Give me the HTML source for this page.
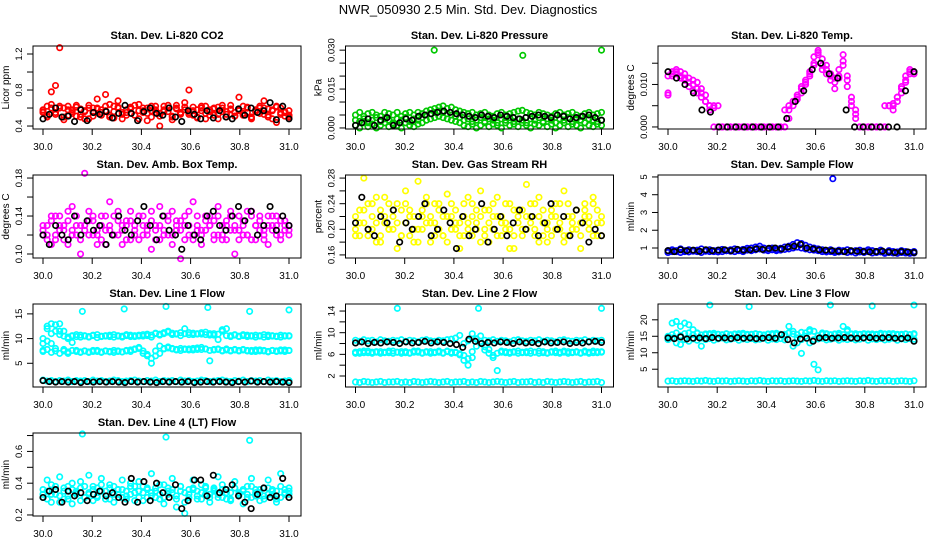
<!DOCTYPE html>
<html><head><meta charset="utf-8"><style>
body{margin:0;background:#fff}
svg{display:block;font-family:"Liberation Sans",sans-serif}
</style></head><body>
<svg id="chart" width="936" height="540" viewBox="0 0 936 540" xmlns="http://www.w3.org/2000/svg">
<rect width="936" height="540" fill="#fff"/>
<text x="468" y="14" text-anchor="middle" font-size="13">NWR_050930  2.5 Min. Std. Dev. Diagnostics</text>
</svg>
<script>
// ---- data ----
const xTickValues=[30.0,30.2,30.4,30.6,30.8,31.0];
const xTickLabels=["30.0","30.2","30.4","30.6","30.8","31.0"];

const co2Red=[0.55,0.62,0.78,0.85,1.27,0.60,0.52,0.58,0.63,0.50,0.56,0.48,0.60,0.70,0.58,0.75,0.52,0.62,0.68,0.48,0.55,0.60,0.52,0.64,0.57,0.46,0.62,0.55,0.40,0.58,0.63,0.50,0.60,0.54,0.66,0.80,0.52,0.58,0.62,0.48,0.56,0.60,0.53,0.63,0.50,0.58,0.55,0.72,0.52,0.60,0.48,0.57,0.62,0.68,0.50,0.58,0.44,0.60,0.55,0.50];
const co2Red2=[0.56,0.52,0.60,0.55,0.62,0.50,0.58,0.54,0.61,0.53,0.57,0.60,0.51,0.59,0.55,0.62,0.50,0.56,0.60,0.53,0.58,0.61,0.52,0.57,0.55,0.60,0.50,0.58,0.54,0.62,0.56,0.51,0.59,0.55,0.61,0.53,0.57,0.50,0.60,0.54,0.58,0.52,0.61,0.56,0.53,0.59,0.51,0.57,0.62,0.55,0.50,0.58,0.54,0.60,0.52,0.57,0.61,0.53,0.56,0.52];
const co2Red3=[0.58,0.50,0.64,0.53,0.60,0.47,0.62,0.56,0.51,0.59,0.48,0.63,0.55,0.60,0.52,0.57,0.64,0.49,0.61,0.55,0.52,0.59,0.63,0.48,0.60,0.54,0.57,0.62,0.51,0.56,0.60,0.47,0.63,0.53,0.58,0.55,0.61,0.49,0.57,0.62,0.52,0.59,0.48,0.60,0.56,0.63,0.51,0.58,0.54,0.61,0.49,0.56,0.60,0.53,0.59,0.48,0.62,0.55,0.51,0.57];
const co2Black=[0.48,0.53,0.60,0.50,0.51,0.45,0.58,0.46,0.55,0.53,0.56,0.49,0.54,0.63,0.54,0.46,0.56,0.60,0.54,0.52,0.60,0.50,0.45,0.57,0.53,0.48,0.57,0.49,0.57,0.50,0.48,0.59,0.52,0.60,0.55,0.57,0.66,0.47,0.62,0.48];

const presGreenHi=[0.005,0.006,0.0045,0.0055,0.006,0.005,0.0045,0.006,0.0055,0.005,0.006,0.0045,0.0055,0.006,0.005,0.006,0.0055,0.0065,0.007,0.0075,0.008,0.0085,0.0075,0.008,0.007,0.0065,0.006,0.0055,0.006,0.005,0.0055,0.006,0.005,0.0045,0.0055,0.006,0.005,0.0055,0.006,0.0065,0.0068,0.006,0.0055,0.005,0.006,0.0055,0.005,0.0045,0.0055,0.006,0.005,0.0055,0.006,0.005,0.0045,0.0055,0.006,0.005,0.0055,0.006];
const presGreenMid=[0.003,0.0025,0.0035,0.002,0.003,0.004,0.0025,0.0035,0.003,0.002,0.0035,0.003,0.004,0.0025,0.0035,0.003,0.004,0.005,0.0055,0.006,0.0065,0.006,0.0055,0.005,0.0045,0.004,0.003,0.0035,0.0025,0.003,0.004,0.0025,0.0035,0.003,0.002,0.0035,0.003,0.004,0.0025,0.0035,0.003,0.002,0.0035,0.003,0.004,0.0025,0.0035,0.003,0.002,0.0035,0.003,0.004,0.0025,0.0035,0.003,0.002,0.0035,0.003,0.0025,0.003];
const presGreenLo=[0.001,0.0,0.002,0.0005,0.0015,0.0,0.001,0.002,0.0005,0.0015,0.001,0.0,0.002,0.001,0.0005,0.0015,0.002,0.003,0.0035,0.004,0.0045,0.004,0.0035,0.003,0.0025,0.002,0.001,0.0005,0.0015,0.0,0.001,0.002,0.0005,0.0015,0.001,0.0,0.002,0.001,0.0015,0.0005,0.002,0.001,0.0,0.0015,0.001,0.002,0.0005,0.0015,0.0,0.001,0.002,0.0005,0.0015,0.001,0.0,0.002,0.001,0.0005,0.0015,0.001];
const presOutX=[30.32,30.68,31.0];
const presOutY=[0.030,0.028,0.030];
const presBlack=[0.001,0.002,0.0035,0.001,0.003,0.004,0.001,0.002,0.0035,0.003,0.0045,0.005,0.0055,0.006,0.0065,0.006,0.0055,0.005,0.0045,0.004,0.005,0.0045,0.004,0.005,0.0045,0.004,0.0035,0.004,0.0045,0.005,0.0045,0.004,0.005,0.0045,0.0035,0.004,0.0045,0.005,0.004,0.003];

const tempMagA=[0.008,0.013,0.0135,0.013,0.0125,0.0115,0.011,0.0105,0.009,0.0075,0.005,0.005,0.005,0,0,0,0,0,0,0,0,0,0,0,0,0,0,0,0,0.002,0.005,0.007,0.008,0.010,0.012,0.0145,0.018,0.016,0.0135,0.012,0.0115,0.012,0.017,0.011,0.007,0.003,0,0,0,0,0,0,0,0.005,0.005,0.006,0.008,0.011,0.0125,0.013];
const tempMagB=[0.0075,0.012,0.0125,0.012,0.0115,0.0105,0.010,0.009,0.008,0.006,0.004,0,0,0,0,0,0,0,0,0,0,0,0,0,0,0,0,0,0.004,0.004,0.006,0.0065,0.009,0.011,0.013,0.0165,0.017,0.0145,0.0125,0.011,0.009,0.0135,0.0145,0.0095,0.005,0.002,0,0,0,0,0,0,0.005,0.005,0.004,0.007,0.0095,0.012,0.0135,0.0125];
const tempMagC=[0.012,0.0125,0.013,0.0115,0.011,0.0095,0.0085,0.008,0.007,0.006,0.005,0.0045,0,0,0,0,0,0,0,0,0,0,0,0,0,0,0,0,0,0.005,0.006,0.0075,0.0095,0.0105,0.0125,0.015,0.0175,0.0135,0.0145,0.0125,0.0105,0.0115,0.0155,0.012,0.006,0.004,0,0,0,0,0,0,0,0.005,0.0055,0.007,0.009,0.0105,0.013,0.0125];
const tempBlack=[0.013,0.0115,0.010,0.008,0.004,0.0035,0,0,0,0,0,0,0,0,0.002,0.006,0.0085,0.0135,0.015,0.0125,0.0115,0.004,0,0,0,0,0,0,0.0085,0.013];

const boxMag1=[0.12,0.13,0.11,0.14,0.125,0.115,0.135,0.15,0.12,0.10,0.13,0.145,0.12,0.11,0.14,0.125,0.155,0.12,0.135,0.11,0.13,0.145,0.12,0.115,0.14,0.13,0.105,0.125,0.15,0.12,0.135,0.11,0.13,0.095,0.14,0.12,0.155,0.125,0.11,0.14,0.13,0.12,0.15,0.115,0.135,0.125,0.10,0.14,0.13,0.12,0.145,0.115,0.135,0.125,0.11,0.14,0.13,0.12,0.135,0.125];
const boxMag2=[0.125,0.115,0.135,0.12,0.14,0.13,0.11,0.125,0.14,0.13,0.185,0.12,0.135,0.125,0.115,0.14,0.13,0.12,0.145,0.125,0.115,0.135,0.13,0.14,0.12,0.125,0.135,0.115,0.13,0.14,0.12,0.145,0.125,0.135,0.115,0.13,0.12,0.14,0.125,0.135,0.13,0.115,0.14,0.12,0.13,0.145,0.125,0.115,0.135,0.12,0.14,0.13,0.125,0.115,0.14,0.13,0.12,0.135,0.125,0.13];
const boxMag3=[0.13,0.12,0.14,0.115,0.13,0.125,0.145,0.12,0.13,0.115,0.125,0.135,0.14,0.12,0.13,0.11,0.125,0.14,0.12,0.13,0.135,0.115,0.125,0.14,0.13,0.12,0.145,0.13,0.115,0.125,0.14,0.12,0.135,0.125,0.13,0.145,0.115,0.13,0.12,0.125,0.14,0.135,0.12,0.13,0.115,0.14,0.13,0.125,0.12,0.145,0.115,0.13,0.14,0.12,0.13,0.125,0.14,0.115,0.13,0.12];
const boxBlack=[0.12,0.11,0.13,0.12,0.115,0.14,0.12,0.135,0.125,0.13,0.11,0.12,0.14,0.125,0.12,0.135,0.15,0.13,0.115,0.14,0.125,0.12,0.105,0.13,0.12,0.115,0.14,0.145,0.13,0.125,0.14,0.15,0.135,0.145,0.12,0.13,0.15,0.125,0.14,0.13];

const rhYel1=[0.20,0.23,0.28,0.19,0.22,0.25,0.18,0.21,0.24,0.20,0.17,0.23,0.26,0.19,0.22,0.275,0.20,0.24,0.18,0.21,0.23,0.19,0.255,0.22,0.20,0.17,0.24,0.21,0.19,0.23,0.26,0.20,0.18,0.22,0.25,0.19,0.21,0.24,0.17,0.23,0.20,0.27,0.22,0.19,0.25,0.21,0.18,0.23,0.20,0.24,0.26,0.19,0.22,0.20,0.17,0.23,0.21,0.25,0.19,0.22];
const rhYel2=[0.22,0.19,0.21,0.24,0.20,0.18,0.23,0.25,0.20,0.22,0.24,0.19,0.21,0.23,0.18,0.20,0.22,0.25,0.21,0.19,0.24,0.22,0.18,0.20,0.23,0.21,0.19,0.25,0.22,0.20,0.18,0.23,0.21,0.24,0.19,0.22,0.20,0.17,0.23,0.21,0.19,0.22,0.24,0.20,0.18,0.23,0.21,0.19,0.22,0.20,0.18,0.24,0.21,0.23,0.19,0.22,0.20,0.24,0.21,0.19];
const rhYel3=[0.19,0.21,0.23,0.20,0.24,0.21,0.19,0.22,0.20,0.23,0.21,0.19,0.24,0.22,0.20,0.18,0.23,0.21,0.22,0.24,0.20,0.19,0.22,0.24,0.21,0.19,0.22,0.20,0.24,0.21,0.22,0.19,0.23,0.20,0.22,0.21,0.24,0.20,0.19,0.22,0.23,0.20,0.21,0.24,0.22,0.19,0.20,0.22,0.24,0.21,0.19,0.22,0.20,0.23,0.21,0.24,0.22,0.19,0.23,0.21];
const rhBlack=[0.21,0.25,0.20,0.19,0.22,0.21,0.23,0.18,0.21,0.20,0.22,0.24,0.19,0.20,0.23,0.21,0.17,0.22,0.19,0.20,0.24,0.18,0.20,0.22,0.19,0.21,0.23,0.20,0.22,0.19,0.21,0.24,0.20,0.22,0.19,0.23,0.21,0.18,0.20,0.19];

const flowBlue1=[0.85,0.9,0.8,0.95,0.85,0.9,0.82,0.88,0.95,0.85,0.9,0.8,0.88,0.92,0.85,0.9,0.95,0.88,0.92,0.98,1.0,1.05,1.1,1.0,0.95,1.0,0.92,0.98,1.05,1.1,1.2,1.3,1.25,1.15,1.05,1.0,0.95,0.9,0.85,0.9,0.82,0.88,0.85,0.9,0.8,0.85,0.88,0.82,0.9,0.85,0.8,0.88,0.75,0.85,0.8,0.78,0.85,0.8,0.75,0.8];
const flowBlue2=[0.75,0.8,0.85,0.75,0.8,0.78,0.85,0.8,0.75,0.82,0.8,0.85,0.78,0.8,0.85,0.82,0.8,0.85,0.8,0.88,0.85,0.9,0.95,0.88,0.85,0.9,0.85,0.88,0.92,0.95,1.0,1.05,1.0,0.95,0.9,0.88,0.85,0.8,0.78,0.8,0.75,0.78,0.8,0.75,0.78,0.72,0.78,0.75,0.8,0.72,0.75,0.78,0.7,0.75,0.72,0.7,0.75,0.72,0.7,0.72];
const flowOutX=[30.67];
const flowOutY=[4.9];
const flowBlack=[0.85,0.8,0.9,0.85,0.88,0.82,0.9,0.85,0.88,0.9,0.85,0.92,0.88,0.9,0.95,0.92,0.98,1.0,0.95,1.05,1.1,1.2,1.0,0.95,0.9,0.88,0.85,0.82,0.8,0.85,0.82,0.8,0.78,0.8,0.82,0.78,0.75,0.8,0.78,0.75];

const l1High=[9,12.5,13,11.5,13,10.5,10,10.5,10.8,10.3,10.6,10.4,10.7,10.2,10.5,10.6,10.4,10.8,10.5,10.3,10.6,10.7,10.4,10.5,10.8,10.6,10.3,11,10.7,11.2,11.5,10.8,11,10.6,12,11.2,10.8,11,10.9,11.3,10.7,11,9.8,11.5,12,10.6,10.8,10.4,10.6,10.7,10.5,10.3,10.6,10.8,10.4,10.6,10.5,10.3,10.6,10.5];
const l1High2=[10,12,11,12.8,10.8,11.5,10.3,10.6,10.4,10.7,10.5,10.3,10.6,10.8,10.4,10.5,10.7,10.3,10.6,10.5,10.8,10.4,10.6,10.7,10.5,10.9,10.7,11.1,10.9,11,11.3,11.1,10.9,11.2,11,10.8,11.1,10.9,11.2,10.8,11,10.7,10.9,11.8,10.6,10.4,10.7,10.5,10.8,10.4,10.6,10.7,10.5,10.3,10.7,10.5,10.4,10.7,10.5,10.6];
const l1Mid=[7.6,9.5,9,7.5,11.5,7.8,7,9.2,7.6,7.3,7.5,7.2,7.4,7.6,7.3,7.5,7.4,7.2,7.5,7.3,7.6,7.4,7.8,8,7.5,6.8,5,6.5,7,8,8.3,8,7.8,7.6,7.9,7.7,8,7.8,8.2,7.9,5.5,7.7,7.8,7.6,7.9,7.5,7.7,7.6,7.8,7.5,7.6,7.4,7.7,7.5,7.3,7.6,7.4,7.5,7.7,7.6];
const l1Mid2=[7.4,7.8,7.2,8,7,7.5,7.3,7.6,7.4,7.2,7.5,7.3,7.6,7.4,7.2,7.5,7.3,7.6,7.4,7.3,7.5,7.7,7.9,8.2,7,6.5,6,7.5,8.5,7.9,8.1,7.9,7.7,8,7.8,7.9,7.7,8.1,7.8,7.9,7.6,7.8,7.9,7.5,7.7,7.6,7.8,7.5,7.7,7.6,7.4,7.7,7.5,7.6,7.4,7.6,7.5,7.7,7.4,7.6];
const l1Low=[1.6,1.4,1.5,1.3,1.5,1.4,1.6,1.3,1.5,1.4,1.5,1.3,1.6,1.4,1.5,1.3,1.4,1.6,1.5,1.3,1.4,1.5,1.6,1.4,1.3,1.5,1.4,1.6,1.3,1.5,1.4,1.5,1.3,1.6,1.4,1.5,1.3,1.4,1.6,1.5,1.3,1.4,1.5,1.6,1.4,1.3,1.5,1.4,1.6,1.3,1.5,1.4,1.5,1.3,1.6,1.4,1.5,1.3,1.4,1.5];
const l1OutX=[30.16,30.33,30.5,30.67,30.84,31.0];
const l1OutY=[15.5,16,16.5,16.3,15.5,15.8];
const l1Black=[1.5,1.3,1.2,1.3,1.2,1.3,1.1,1.3,1.2,1.3,1.2,1.3,1.2,1.1,1.3,1.2,1.3,1.2,1.1,1.3,1.2,1.3,1.2,1.3,1.1,1.2,1.3,1.2,1.3,1.2,1.1,1.3,1.2,1.4,1.2,1.3,1.2,1.3,1.2,1.1];

const l2Mid=[6.4,6.2,6.6,6.3,6.4,6.5,6.2,6.4,6.3,6.6,6.4,6.2,6.5,6.3,6.4,6.6,6.2,6.4,6.5,6.3,6.4,6.2,6.6,6.4,6.3,5.9,4.9,4.0,5.4,8.9,9.4,7.4,6.9,5.4,3.0,6.6,6.3,6.4,6.5,6.2,6.4,6.3,6.6,6.4,6.2,6.5,6.3,6.4,6.6,6.2,6.4,6.5,6.3,6.4,6.2,6.6,6.4,6.3,6.5,6.4];
const l2Mid2=[6.2,6.5,6.3,6.6,6.2,6.4,6.5,6.3,6.6,6.2,6.4,6.5,6.3,6.2,6.6,6.4,6.3,6.5,6.2,6.4,6.6,6.3,6.5,6.2,6.4,6.1,5.8,5.2,6.5,7.5,8,6.8,6.2,5.8,6.2,6.4,6.5,6.2,6.4,6.6,6.3,6.5,6.2,6.4,6.6,6.3,6.2,6.5,6.3,6.4,6.6,6.2,6.4,6.5,6.3,6.4,6.2,6.6,6.3,6.5];
const l2High=[8.6,8.4,8.7,8.5,8.6,8.3,8.7,8.5,8.4,8.6,8.5,8.7,8.4,8.6,8.5,8.3,8.6,8.7,8.5,8.4,8.6,8.5,8.7,8.8,9,9.5,8,8.5,9.8,8.8,8.4,8.6,8.5,8.7,8.4,8.6,8.5,8.3,8.6,8.7,8.5,8.4,8.6,8.5,8.7,8.4,8.6,8.5,8.3,8.6,8.7,8.5,8.4,8.6,8.5,8.7,8.4,8.6,8.5,8.6];
const l2Low=[0.9,0.8,1.0,0.9,0.8,0.9,1.0,0.8,0.9,0.9,1.0,0.8,0.9,0.8,1.0,0.9,0.8,0.9,1.0,0.9,0.8,0.9,1.0,0.8,0.9,0.9,1.0,0.8,0.9,0.8,1.0,0.9,0.8,0.9,1.0,0.9,0.8,0.9,1.0,0.8,0.9,0.9,1.0,0.8,0.9,0.8,1.0,0.9,0.8,0.9,1.0,0.9,0.8,0.9,1.0,0.8,0.9,0.9,1.0,0.8];
const l2OutX=[30.17,30.5,31.0];
const l2OutY=[14.5,14.5,14.5];
const l2Black=[8.1,8.3,8.0,8.2,8.1,8.3,8.2,8.0,8.3,8.1,8.2,8.4,8.1,8.3,8.2,8.0,7.8,7.3,8.8,8.4,8.0,8.2,8.1,8.3,8.2,8.0,8.3,8.1,8.2,8.0,8.3,8.1,8.2,8.3,8.0,8.2,8.1,8.3,8.4,8.2];

const l3High=[15,19,19.5,18,19,18.5,17,16,12,15.5,15.8,15.4,15.6,15.5,15.7,15.3,15.6,15.8,15.5,15.4,15.6,15.7,15.5,15.3,15.6,15.8,15.5,15.4,15.6,18,15.7,15.5,9.8,16,17,6.5,4.8,16,15.6,15.5,15.7,15.4,18,17,15.6,15.8,15.5,15.6,15.7,15.4,15.6,15.5,15.7,15.8,15.5,15.4,15.6,15.7,15.5,15.6];
const l3High2=[14.8,15.5,16,15.2,15.8,16,15.5,15.9,15.4,15.7,15.5,15.9,15.6,15.4,15.8,15.5,15.7,15.4,15.9,15.6,15.5,15.8,15.6,15.4,15.7,15.5,15.9,15.6,15.3,16,16.5,14.5,16.2,15,16.5,14,15.2,15.6,15.8,15.4,15.6,15.9,15.5,16.5,15.7,15.4,15.6,15.8,15.5,15.7,15.4,15.9,15.6,15.5,15.8,15.6,15.4,15.7,15.5,15.8];
const l3Mid=[14,14.5,13,12.5,14,13.5,14.2,13.8,14.5,14,14.3,13.8,14.2,14.5,13.9,14.1,14.4,13.8,14.2,14,14.3,13.9,14.1,14.4,13.8,14.2,14,14.3,13.9,16,12,13,14,15,13,16.5,14.2,14.4,13.9,14.1,14.4,13.8,14.2,14,14.3,13.9,14.1,14.4,13.8,14.2,14,14.3,13.9,14.1,14.4,13.8,14.2,14,14.3,14.1];
const l3Low=[1.4,1.5,1.3,1.4,1.5,1.4,1.3,1.5,1.4,1.6,1.4,1.3,1.5,1.4,1.5,1.3,1.4,1.5,1.4,1.3,1.5,1.4,1.6,1.4,1.3,1.5,1.4,1.5,1.3,1.4,1.5,1.4,1.3,1.5,1.4,1.6,1.4,1.3,1.5,1.4,1.5,1.3,1.4,1.5,1.4,1.3,1.5,1.4,1.6,1.4,1.3,1.5,1.4,1.5,1.3,1.4,1.5,1.4,1.3,1.5];
const l3OutX=[30.17,30.33,30.66,30.83,31.0];
const l3OutY=[24.5,24,24.5,24.2,24.5];
const l3Black=[14.5,14.3,14.8,14.2,14.4,14.5,14.3,14.6,14.4,14.5,14.3,14.6,14.4,14.5,14.3,14.4,14.6,14.4,15.5,14.0,13.0,14.2,14.4,13.5,14.5,14.6,14.4,14.5,14.6,14.5,14.4,14.5,14.6,14.4,14.5,14.6,14.4,14.3,14.5,13.5];

const l4Cyan1=[0.33,0.42,0.28,0.36,0.44,0.30,0.38,0.27,0.35,0.41,0.31,0.45,0.29,0.37,0.43,0.32,0.39,0.28,0.36,0.42,0.30,0.38,0.34,0.41,0.29,0.36,0.46,0.31,0.39,0.27,0.35,0.43,0.32,0.38,0.21,0.36,0.42,0.30,0.39,0.33,0.28,0.37,0.44,0.31,0.36,0.29,0.41,0.34,0.27,0.38,0.43,0.32,0.36,0.30,0.42,0.35,0.28,0.46,0.33,0.37];
const l4Cyan2=[0.36,0.30,0.39,0.33,0.28,0.37,0.32,0.40,0.34,0.29,0.38,0.33,0.36,0.31,0.39,0.35,0.30,0.38,0.33,0.36,0.32,0.40,0.29,0.35,0.38,0.31,0.34,0.37,0.30,0.39,0.33,0.36,0.25,0.38,0.34,0.31,0.37,0.35,0.30,0.38,0.33,0.36,0.31,0.39,0.34,0.30,0.37,0.33,0.36,0.31,0.38,0.34,0.29,0.37,0.33,0.36,0.30,0.38,0.34,0.35];
const l4Cyan3=[0.31,0.35,0.33,0.38,0.32,0.35,0.30,0.36,0.33,0.37,0.31,0.34,0.38,0.32,0.35,0.30,0.37,0.33,0.36,0.31,0.35,0.33,0.38,0.31,0.34,0.37,0.32,0.35,0.33,0.31,0.37,0.34,0.30,0.35,0.28,0.33,0.36,0.32,0.34,0.37,0.31,0.35,0.33,0.36,0.30,0.34,0.37,0.32,0.35,0.33,0.31,0.36,0.34,0.32,0.37,0.33,0.35,0.31,0.36,0.33];
const l4OutX=[30.16,30.5,30.84];
const l4OutY=[0.71,0.69,0.67];
const l4Black=[0.31,0.35,0.36,0.28,0.35,0.32,0.34,0.29,0.33,0.35,0.32,0.34,0.31,0.28,0.43,0.28,0.41,0.29,0.40,0.34,0.31,0.39,0.24,0.29,0.42,0.42,0.32,0.45,0.34,0.36,0.39,0.32,0.28,0.24,0.33,0.37,0.31,0.32,0.43,0.31];

// ---- layout ----
const NS="http://www.w3.org/2000/svg";
const svg=document.getElementById('chart');
function el(tag,attrs,parent){const e=document.createElementNS(NS,tag);for(const k in attrs)e.setAttribute(k,attrs[k]);(parent||svg).appendChild(e);return e;}

const panels=[
 {c:0,r:0,title:"Stan. Dev. Li-820 CO2",ylab:"Licor ppm",dom:[0.367,1.289],ticks:[0.4,0.6,0.8,1.0,1.2],labels:[[0.4,"0.4"],[0.8,"0.8"],[1.2,"1.2"]],
  series:[["#ff0000",co2Red],["#ff0000",co2Red2],["#ff0000",co2Red3],["#000",co2Black]]},
 {c:1,r:0,title:"Stan. Dev. Li-820 Pressure",ylab:"kPa",dom:[-0.0004,0.0316],ticks:[0,0.005,0.01,0.015,0.02,0.025,0.03],labels:[[0,"0.000"],[0.015,"0.015"],[0.03,"0.030"]],
  series:[["#00c800",presGreenHi],["#00c800",presGreenMid],["#00c800",presGreenLo],["#00c800",presOutY,presOutX],["#000",presBlack]]},
 {c:2,r:0,title:"Stan. Dev. Li-820 Temp.",ylab:"degrees C",dom:[-0.00048,0.01905],ticks:[0,0.005,0.01,0.015],labels:[[0,"0.000"],[0.01,"0.010"]],
  series:[["#ff00ff",tempMagA],["#ff00ff",tempMagB],["#ff00ff",tempMagC],["#000",tempBlack]]},
 {c:0,r:1,title:"Stan. Dev. Amb. Box Temp.",ylab:"degrees C",dom:[0.0958,0.1832],ticks:[0.10,0.12,0.14,0.16,0.18],labels:[[0.10,"0.10"],[0.14,"0.14"],[0.18,"0.18"]],
  series:[["#ff00ff",boxMag1],["#ff00ff",boxMag2],["#ff00ff",boxMag3],["#000",boxBlack]]},
 {c:1,r:1,title:"Stan. Dev. Gas Stream RH",ylab:"percent",dom:[0.1552,0.2848],ticks:[0.16,0.18,0.20,0.22,0.24,0.26,0.28],labels:[[0.16,"0.16"],[0.20,"0.20"],[0.24,"0.24"],[0.28,"0.28"]],
  series:[["#ffff00",rhYel1],["#ffff00",rhYel2],["#ffff00",rhYel3],["#000",rhBlack]]},
 {c:2,r:1,title:"Stan. Dev. Sample Flow",ylab:"ml/min",dom:[0.437,5.11],ticks:[1,2,3,4,5],labels:[[1,"1"],[2,"2"],[3,"3"],[4,"4"],[5,"5"]],
  series:[["#0000ff",flowBlue1],["#0000ff",flowBlue2],["#0000ff",flowOutY,flowOutX],["#000",flowBlack]]},
 {c:0,r:2,title:"Stan. Dev. Line 1 Flow",ylab:"ml/min",dom:[0.2,17],ticks:[5,10,15],labels:[[5,"5"],[10,"10"],[15,"15"]],
  series:[["#00ffff",l1High],["#00ffff",l1High2],["#00ffff",l1Mid],["#00ffff",l1Mid2],["#00ffff",l1Low],["#00ffff",l1OutY,l1OutX],["#000",l1Black]]},
 {c:1,r:2,title:"Stan. Dev. Line 2 Flow",ylab:"ml/min",dom:[-0.03,15.3],ticks:[2,4,6,8,10,12,14],labels:[[2,"2"],[6,"6"],[10,"10"],[14,"14"]],
  series:[["#00ffff",l2Mid],["#00ffff",l2Mid2],["#00ffff",l2High],["#00ffff",l2Low],["#00ffff",l2OutY,l2OutX],["#000",l2Black]]},
 {c:2,r:2,title:"Stan. Dev. Line 3 Flow",ylab:"ml/min",dom:[-0.4,24.8],ticks:[5,10,15,20],labels:[[5,"5"],[10,"10"],[15,"15"],[20,"20"]],
  series:[["#00ffff",l3High],["#00ffff",l3High2],["#00ffff",l3Mid],["#00ffff",l3Low],["#00ffff",l3OutY,l3OutX],["#000",l3Black]]},
 {c:0,r:3,title:"Stan. Dev. Line 4 (LT) Flow",ylab:"ml/min",dom:[0.1935,0.716],ticks:[0.2,0.3,0.4,0.5,0.6,0.7],labels:[[0.2,"0.2"],[0.4,"0.4"],[0.6,"0.6"]],
  series:[["#00ffff",l4Cyan1],["#00ffff",l4Cyan2],["#00ffff",l4Cyan3],["#00ffff",l4OutY,l4OutX],["#000",l4Black]]}
];

panels.forEach((p,pi)=>{
  const L=33+312.5*p.c, R=L+268, T=46+129*p.r, B=T+83;
  const x30=L+10;
  const xs=v=>x30+(v-30)*246;
  const ys=v=>B-(v-p.dom[0])/(p.dom[1]-p.dom[0])*(B-T);
  const g=el('g',{});
  
  
  const t=el('text',{x:(L+R)/2,y:T-7,'text-anchor':'middle','font-size':11,'font-weight':'bold'},g);
  t.textContent=p.title;
  
  
  xTickValues.forEach((v,i)=>{
    const l=el('line',{x1:xs(v),x2:xs(v),y1:B,y2:B+6,stroke:'#000','stroke-width':1},g);
    
    
    const tx=el('text',{x:xs(v),y:B+21,'text-anchor':'middle','font-size':10},g);
    tx.textContent=xTickLabels[i];
    
    
  });
  p.ticks.forEach(v=>{
    const l=el('line',{x1:L-6,x2:L,y1:ys(v),y2:ys(v),stroke:'#000','stroke-width':1},g);
    
    
  });
  p.labels.forEach(([v,s])=>{
    const tx=el('text',{x:0,y:0,'text-anchor':'middle','font-size':9.5,transform:`translate(${L-11},${ys(v)}) rotate(-90)`},g);
    tx.textContent=s;
    
    
  });
  const yl=el('text',{x:0,y:0,'text-anchor':'middle','font-size':10,transform:`translate(${L-24},${(T+B)/2}) rotate(-90)`},g);
  yl.textContent=p.ylab;
  
  
  p.series.forEach(([col,vals,xv])=>{
    const sg=el('g',{fill:'none',stroke:col,'stroke-width':1.7},g);
    
    
    vals.forEach((v,i)=>{
      const xv2=xv?xv[i]:30+i/(vals.length-1);
      const c=el('circle',{cx:xs(xv2),cy:ys(v),r:2.7},sg);
      
      
    });
  });
  const box=el('rect',{x:L,y:T,width:R-L,height:B-T,fill:'none',stroke:'#000','stroke-width':1},g);
  
  
});
</script>
</body></html>
